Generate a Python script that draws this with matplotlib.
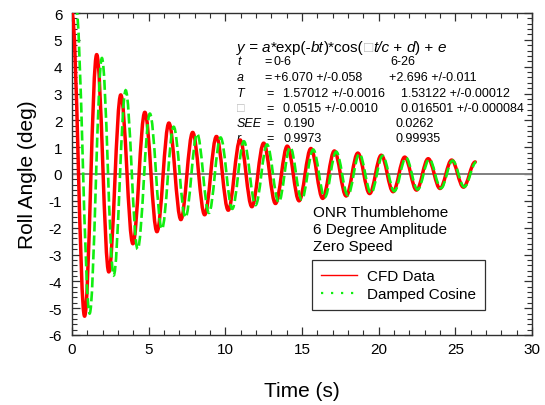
import matplotlib
matplotlib.use("Agg")
import matplotlib.pyplot as plt
from matplotlib.path import Path
from matplotlib.patches import PathPatch
from matplotlib.lines import Line2D
from matplotlib.ticker import MultipleLocator

plt.rcParams['font.family'] = ['Liberation Sans', 'DejaVu Sans']
plt.rcParams['axes.unicode_minus'] = False

# turning points (time s, roll deg)
red_t = [0.0, 0.82, 1.61, 2.40, 3.18, 3.97, 4.75, 5.54, 6.32,
         7.10, 7.87, 8.65, 9.42, 10.19, 10.96, 11.73, 12.50, 13.27, 14.04,
         14.81, 15.58, 16.35, 17.11, 17.88, 18.64, 19.41, 20.17, 20.94, 21.70,
         22.47, 23.23, 24.00, 24.76, 25.53, 26.30]
red_v = [6.0, -5.3, 4.45, -3.65, 2.95, -2.6, 2.3, -2.15, 1.9,
         -1.70, 1.55, -1.52, 1.40, -1.35, 1.27, -1.22, 1.15, -1.10, 1.04,
         -1.00, 0.95, -0.91, 0.86, -0.82, 0.78, -0.73, 0.70, -0.66, 0.63,
         -0.60, 0.57, -0.54, 0.52, -0.49, 0.45]

green_t = [0.25, 1.15, 1.95, 2.72, 3.50, 4.28, 5.08, 5.86, 6.63,
           7.40, 8.16, 8.93, 9.69, 10.45, 11.21, 11.97, 12.72, 13.48, 14.23,
           14.98, 15.73, 16.48, 17.23, 17.99, 18.74, 19.50, 20.26, 21.02, 21.78,
           22.54, 23.30, 24.06, 24.82, 25.58, 26.36]
green_v = [6.3, -5.2, 4.32, -3.78, 3.12, -2.80, 2.25, -2.05, 1.76,
           -1.62, 1.50, -1.45, 1.36, -1.30, 1.22, -1.16, 1.10, -1.05, 1.00,
           -0.95, 0.91, -0.87, 0.83, -0.79, 0.75, -0.71, 0.68, -0.64, 0.61,
           -0.58, 0.55, -0.53, 0.50, -0.48, 0.44]

fit_rows = [
    ('t', '=', '0-6', '6-26'),
    ('a', '=', '+6.070 +/-0.058', '+2.696 +/-0.011'),
    ('T', '=', '1.57012 +/-0.0016', '1.53122 +/-0.00012'),
    ('\u25a1', '=', '0.0515 +/-0.0010', '0.016501 +/-0.000084'),
    ('SEE', '=', '0.190', '0.0262'),
    ('r', '=', '0.9973', '0.99935'),
]
note_lines = ['ONR Thumblehome', '6 Degree Amplitude', 'Zero Speed']


def smooth_path(t, v, k=0.3634):
    # cubic segments between turning points, flat at each extreme
    verts = [(t[0], v[0])]
    codes = [Path.MOVETO]
    for i in range(1, len(t)):
        h = t[i] - t[i - 1]
        verts += [(t[i - 1] + k * h, v[i - 1]), (t[i] - k * h, v[i]), (t[i], v[i])]
        codes += [Path.CURVE4] * 3
    return Path(verts, codes)


W, H = 545, 406
fig = plt.figure(figsize=(W / 100, H / 100), dpi=100)
ax = fig.add_axes([72 / W, 1 - 336 / H, 460 / W, 322 / H])

ax.axhline(0, color='#808080', lw=1.4, zorder=2)

red = PathPatch(smooth_path(red_t, red_v), fill=False, edgecolor='#ff0000',
                lw=2.5, zorder=3, capstyle='round', joinstyle='round')
ax.add_patch(red)
green = PathPatch(smooth_path(green_t, green_v), fill=False, edgecolor='#11ee11',
                  lw=1.9, linestyle=(0, (3.8, 1.5)), zorder=4)
ax.add_patch(green)

ax.set_xlim(0, 30)
ax.set_ylim(-6, 6)
ax.xaxis.set_major_locator(MultipleLocator(5))
ax.xaxis.set_minor_locator(MultipleLocator(1))
ax.yaxis.set_major_locator(MultipleLocator(1))
ax.yaxis.set_minor_locator(MultipleLocator(0.2))
ax.tick_params(which='both', direction='in', top=True, right=True, color='#303030')
ax.tick_params(which='major', length=6, width=0.9, labelsize=11)
ax.tick_params(which='minor', length=3.5, width=0.8)
ax.tick_params(axis='x', pad=5)
ax.tick_params(axis='y', pad=7)
for s in ax.spines.values():
    s.set_color('#303030')
    s.set_linewidth(1.0)

fig.text(302 / W, 1 - 392 / H, 'Time (s)', ha='center', va='center', fontsize=15)
fig.text(28 / W, 1 - 175 / H, 'Roll Angle (deg)', ha='center', va='center',
         rotation=90, fontsize=15)

# equation, built from pieces so the odd glyph can be grey
pieces = [('y', 'italic', 'k'), (' = ', 'normal', 'k'), ('a', 'italic', 'k'),
          ('*exp(-', 'normal', 'k'), ('bt', 'italic', 'k'), (')*cos(', 'normal', 'k'),
          ('\u25a1', 'normal', '#b8b8b8'), ('t/c', 'italic', 'k'), (' + ', 'normal', 'k'),
          ('d', 'italic', 'k'), (') + ', 'normal', 'k'), ('e', 'italic', 'k')]
prev = ax.text(237 / W, 1 - 55 / H, pieces[0][0], style=pieces[0][1], color=pieces[0][2],
               transform=fig.transFigure, fontsize=11, va='bottom', ha='left', zorder=1)
for txt, st, col in pieces[1:]:
    prev = ax.annotate(txt, xy=(1, 0), xycoords=prev, va='bottom', ha='left',
                       fontsize=11, style=st, color=col, zorder=1)

row_y = [62, 78, 94, 109, 124, 139]
for (lab, eq, v1, v2), y in zip(fit_rows, row_y):
    yf = 1 - y / H
    lab_col = '#b8b8b8' if lab == '\u25a1' else 'k'
    ax.text(237 / W, yf, lab, style='italic', color=lab_col, fontsize=9,
            va='center', transform=fig.transFigure, zorder=1)
    if lab in ('t', 'a'):
        ex, x1 = 264, 274
        x2 = 390 if lab == 't' else 389
    else:
        ex, x1 = 266, 283
        x2 = 401 if lab in ('T', '\u25a1') else 396
    ax.text(ex / W, yf, eq, fontsize=9, va='center', transform=fig.transFigure, zorder=1)
    ax.text(x1 / W, yf, v1, fontsize=9, va='center', transform=fig.transFigure, zorder=1)
    ax.text(x2 / W, yf, v2, fontsize=9, va='center', transform=fig.transFigure, zorder=1)

for i, line in enumerate(note_lines):
    ax.text(313 / W, 1 - (213 + 17 * i) / H, line, fontsize=11, va='center',
            transform=fig.transFigure, zorder=1)

handles = [Line2D([], [], color='#ff0000', lw=1.0),
           Line2D([], [], color='#11ee11', lw=1.6, linestyle=(0, (1, 3.5)))]
leg = ax.legend(handles, ['CFD Data', 'Damped Cosine'],
                loc='upper left', bbox_to_anchor=(0.522, 0.059, 0.376, 0.174),
                mode='expand', fontsize=11, frameon=True, fancybox=False,
                edgecolor='#303030', framealpha=1, borderpad=0.6,
                handlelength=2.35, handletextpad=0.65, labelspacing=0.25,
                borderaxespad=0)
leg.get_frame().set_linewidth(0.9)

fig.savefig('out.png', dpi=100)
